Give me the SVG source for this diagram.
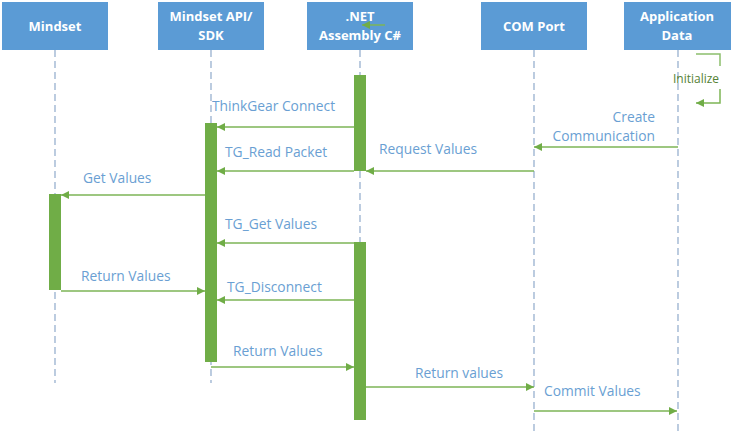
<svg xmlns="http://www.w3.org/2000/svg" width="733" height="433" viewBox="0 0 733 433">
<defs>
<marker id="ah" viewBox="0 0 10 10" refX="10" refY="5" markerWidth="10" markerHeight="8" markerUnits="userSpaceOnUse" orient="auto">
<path d="M0,0 L10,5 L0,10 z" fill="#70AD47"/>
</marker>
</defs>
<style>
.hdr{fill:#5B9BD5}
.ht{font-family:"Open Sans","Noto Sans",sans-serif;font-weight:bold;font-size:13px;fill:#ffffff;text-anchor:middle}
.ll{stroke:#8FAACB;stroke-width:1.2;stroke-dasharray:7 4;fill:none}
.bar{fill:#70AD47}
.msg{stroke:#7DB556;stroke-width:1.5;fill:none;marker-end:url(#ah)}
.ml{font-family:"Open Sans","Noto Sans",sans-serif;font-size:13.8px;fill:#6A9FD3}
.self{stroke:#8CBF6C;stroke-width:1.5;fill:none}
</style>
<rect width="733" height="433" fill="#ffffff"/>
<g id="lifelines">
<line class="ll" x1="55" y1="50" x2="55" y2="383"/>
<line class="ll" x1="211" y1="50" x2="211" y2="383"/>
<line class="ll" x1="360" y1="50" x2="360" y2="420"/>
<line class="ll" x1="534" y1="50" x2="534" y2="433"/>
<line class="ll" x1="678" y1="50" x2="678" y2="433"/>
</g>
<g id="node-mindset">
<rect class="hdr" x="2" y="2" width="106" height="48"/>
<text class="ht" x="55" y="31">Mindset</text>
</g>
<g id="node-sdk">
<rect class="hdr" x="158" y="2" width="106" height="48"/>
<text class="ht" x="211" y="21">Mindset API/</text>
<text class="ht" x="211" y="40">SDK</text>
</g>
<g id="node-net">
<rect class="hdr" x="307" y="2" width="106" height="48"/>
<text class="ht" x="360" y="21">.NET</text>
<text class="ht" x="360" y="40">Assembly C#</text>
</g>
<g id="node-com">
<rect class="hdr" x="481" y="2" width="106" height="48"/>
<text class="ht" x="534" y="31">COM Port</text>
</g>
<g id="node-app">
<rect class="hdr" x="624" y="2" width="107" height="48"/>
<text class="ht" x="677" y="21">Application</text>
<text class="ht" x="677" y="40">Data</text>
</g>
<g id="activations">
<rect class="bar" x="354" y="75" width="12" height="96"/>
<rect class="bar" x="205" y="123" width="12" height="239"/>
<rect class="bar" x="49" y="194" width="12" height="96"/>
<rect class="bar" x="354" y="242" width="12" height="178"/>
</g>
<g id="connectors">
<line class="msg" x1="385" y1="25" x2="362" y2="25"/>
<polyline class="self" points="696,54 720,54 720,66"/>
<polyline class="msg" points="720,89 720,103 696,103"/>
<line class="msg" x1="354" y1="127" x2="217" y2="127"/>
<line class="msg" x1="678" y1="147" x2="534" y2="147"/>
<line class="msg" x1="534" y1="171" x2="366" y2="171"/>
<line class="msg" x1="354" y1="171" x2="217" y2="171"/>
<line class="msg" x1="205" y1="195" x2="61" y2="195"/>
<line class="msg" x1="354" y1="243" x2="217" y2="243"/>
<line class="msg" x1="61" y1="291" x2="205" y2="291"/>
<line class="msg" x1="354" y1="300" x2="217" y2="300"/>
<line class="msg" x1="211" y1="367" x2="354" y2="367"/>
<line class="msg" x1="366" y1="387" x2="534" y2="387"/>
<line class="msg" x1="534" y1="411" x2="677" y2="411"/>
</g>
<g id="labels">
<text x="696" y="83" font-family="Open Sans, Noto Sans, sans-serif" font-size="12" fill="#548235" text-anchor="middle">Initialize</text>
<text class="ml" x="212" y="111">ThinkGear Connect</text>
<text class="ml" x="655" y="122" text-anchor="end">Create</text>
<text class="ml" x="655" y="141" text-anchor="end">Communication</text>
<text class="ml" x="379" y="154">Request Values</text>
<text class="ml" x="225" y="157">TG_Read Packet</text>
<text class="ml" x="83" y="183">Get Values</text>
<text class="ml" x="225" y="229">TG_Get Values</text>
<text class="ml" x="81" y="281">Return Values</text>
<text class="ml" x="227" y="292">TG_Disconnect</text>
<text class="ml" x="233" y="356">Return Values</text>
<text class="ml" x="415" y="378">Return values</text>
<text class="ml" x="544" y="396">Commit Values</text>
</g>
</svg>
